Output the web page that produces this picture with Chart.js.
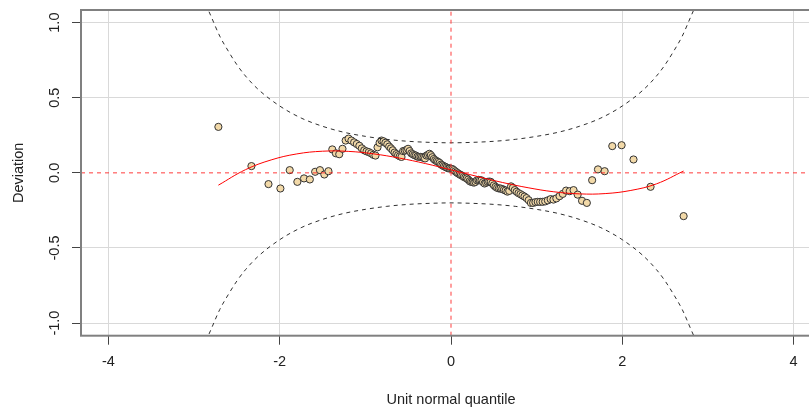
<!DOCTYPE html>
<html>
<head>
<meta charset="utf-8">
<title>Worm plot</title>
<script src="https://cdn.jsdelivr.net/npm/chart.js@4/dist/chart.umd.min.js"></script>
<style>
  html, body { margin: 0; padding: 0; background: #ffffff; overflow: hidden; }
  #wrap { position: relative; width: 840px; height: 409px; }
  canvas { display: block; }
</style>
</head>
<body>
<div id="wrap"><canvas id="wp" width="840" height="409"></canvas></div>
<script>
// Unit normal quantiles of the ordered residuals (n = 151)
const quantiles = [
  -2.716,-2.330,-2.131,-1.992,-1.883,-1.794,-1.716,-1.648,-1.586,-1.530,
  -1.479,-1.431,-1.386,-1.344,-1.305,-1.267,-1.230,-1.196,-1.163,-1.131,
  -1.100,-1.070,-1.041,-1.013,-0.986,-0.959,-0.933,-0.907,-0.882,-0.858,
  -0.834,-0.811,-0.788,-0.766,-0.744,-0.722,-0.701,-0.680,-0.659,-0.638,
  -0.618,-0.598,-0.578,-0.559,-0.539,-0.520,-0.501,-0.483,-0.464,-0.446,
  -0.428,-0.410,-0.392,-0.374,-0.356,-0.338,-0.321,-0.303,-0.286,-0.269,
  -0.252,-0.235,-0.218,-0.201,-0.184,-0.167,-0.150,-0.133,-0.116,-0.100,
  -0.083,-0.066,-0.050,-0.033,-0.017, 0.000, 0.017, 0.033, 0.050, 0.066,
   0.083, 0.100, 0.116, 0.133, 0.150, 0.167, 0.184, 0.201, 0.218, 0.235,
   0.252, 0.269, 0.286, 0.303, 0.321, 0.338, 0.356, 0.374, 0.392, 0.410,
   0.428, 0.446, 0.464, 0.483, 0.501, 0.520, 0.539, 0.559, 0.578, 0.598,
   0.618, 0.638, 0.659, 0.680, 0.701, 0.722, 0.744, 0.766, 0.788, 0.811,
   0.834, 0.858, 0.882, 0.907, 0.933, 0.959, 0.986, 1.013, 1.041, 1.070,
   1.100, 1.131, 1.163, 1.196, 1.230, 1.267, 1.305, 1.344, 1.386, 1.431,
   1.479, 1.530, 1.586, 1.648, 1.716, 1.794, 1.883, 1.992, 2.131, 2.330,
   2.716
];

// Deviation of each ordered residual from its normal quantile
const deviations = [
   0.306, 0.045,-0.075,-0.104, 0.018,-0.060,-0.037,-0.044, 0.007, 0.018,
  -0.011, 0.011, 0.156, 0.130, 0.124, 0.160, 0.215, 0.228, 0.215, 0.203,
   0.192, 0.180, 0.163, 0.150, 0.143, 0.138, 0.130, 0.120, 0.115, 0.170,
   0.200, 0.215, 0.210, 0.200, 0.190, 0.175, 0.163, 0.150, 0.135, 0.125,
   0.117, 0.110, 0.106, 0.145, 0.148, 0.152, 0.160, 0.145, 0.130, 0.124,
   0.118, 0.115, 0.108, 0.106, 0.106, 0.104, 0.100, 0.096, 0.115, 0.120,
   0.127, 0.118, 0.104, 0.092, 0.084, 0.078, 0.073, 0.066, 0.055, 0.050,
   0.044, 0.040, 0.035, 0.030, 0.030, 0.028, 0.025, 0.018, 0.010, 0.003,
  -0.004,-0.010,-0.015,-0.020,-0.027,-0.032,-0.037,-0.045,-0.055,-0.060,
  -0.062,-0.065,-0.060,-0.050,-0.047,-0.049,-0.050,-0.062,-0.071,-0.066,
  -0.060,-0.058,-0.060,-0.070,-0.083,-0.093,-0.100,-0.104,-0.104,-0.108,
  -0.113,-0.118,-0.125,-0.120,-0.090,-0.100,-0.115,-0.126,-0.135,-0.142,
  -0.150,-0.158,-0.168,-0.182,-0.200,-0.200,-0.195,-0.193,-0.193,-0.193,
  -0.190,-0.183,-0.175,-0.178,-0.170,-0.155,-0.140,-0.118,-0.122,-0.115,
  -0.145,-0.186,-0.200,-0.049, 0.023, 0.011, 0.178, 0.184, 0.089,-0.093,
  -0.288
];

// Fitted cubic through the worm
const fitQuantiles = [-2.716,-2.4,-2.1,-1.8,-1.5,-1.2,-0.9,-0.6,-0.3,0,0.3,0.6,0.9,1.2,1.5,1.8,2.1,2.4,2.716];
const fitDeviations = [-0.082,0.021,0.086,0.126,0.144,0.143,0.126,0.098,0.062,0.020,-0.023,-0.064,-0.099,-0.126,-0.140,-0.138,-0.117,-0.073,0.012];

// 95% pointwise confidence band
const bandQuantiles = [-2.9,-2.8,-2.7,-2.6,-2.5,-2.4,-2.25,-2.0,-1.75,-1.5,-1.25,-1.0,-0.75,-0.5,-0.25,0,
                        0.25,0.5,0.75,1.0,1.25,1.5,1.75,2.0,2.25,2.4,2.5,2.6,2.7,2.8,2.9];
const bandUpper = [1.17,1.04,0.91,0.81,0.72,0.645,0.555,0.445,0.365,0.31,0.27,0.243,0.223,0.21,0.203,0.20,
                   0.203,0.21,0.223,0.243,0.27,0.31,0.365,0.445,0.555,0.645,0.72,0.81,0.91,1.04,1.17];
const bandLower = [-1.17,-1.04,-0.91,-0.81,-0.72,-0.645,-0.555,-0.445,-0.365,-0.31,-0.27,-0.243,-0.223,-0.21,-0.203,-0.20,
                   -0.203,-0.21,-0.223,-0.243,-0.27,-0.31,-0.365,-0.445,-0.555,-0.645,-0.72,-0.81,-0.91,-1.04,-1.17];

// Axes
const xTickValues = [-4, -2, 0, 2, 4];
const xTickLabels = ['-4', '-2', '0', '2', '4'];
const yTickValues = [-1, -0.5, 0, 0.5, 1];
const yTickLabels = ['-1.0', '-0.5', '0.0', '0.5', '1.0'];
const xRange = [-4.32, 4.32];
const yRange = [-1.084, 1.084];
// Reference lines: zero deviation and zero quantile
const refX = 0, refY = 0;

const pairs = (xs, ys) => xs.map((v, i) => ({ x: v, y: ys[i] }));

const FONT = "'Liberation Sans', Arial, Helvetica, sans-serif";

// Grey box round the plotting region
const plotFrame = {
  id: 'plotFrame',
  afterDraw(chart) {
    const { ctx, chartArea: a } = chart;
    ctx.save();
    ctx.strokeStyle = '#808080';
    ctx.lineWidth = 2;
    ctx.setLineDash([]);
    ctx.strokeRect(a.left, a.top, a.right - a.left, a.bottom - a.top);
    ctx.restore();
  }
};

const refStyle = { showLine: true, borderColor: 'rgba(255,40,40,0.9)', borderWidth: 1,
                   borderDash: [4, 4], pointRadius: 0, fill: false };

new Chart(document.getElementById('wp'), {
  type: 'scatter',
  data: {
    datasets: [
      Object.assign({ data: [{ x: refX, y: yRange[0] }, { x: refX, y: yRange[1] }] }, refStyle),
      Object.assign({ data: [{ x: xRange[0], y: refY }, { x: xRange[1], y: refY }] }, refStyle),
      {
        data: pairs(fitQuantiles, fitDeviations),
        showLine: true, borderColor: '#ff0000', borderWidth: 1,
        pointRadius: 0, tension: 0.4, fill: false
      },
      {
        data: pairs(bandQuantiles, bandUpper),
        showLine: true, borderColor: '#303030', borderWidth: 1, borderDash: [4, 4],
        pointRadius: 0, cubicInterpolationMode: 'monotone', fill: false
      },
      {
        data: pairs(bandQuantiles, bandLower),
        showLine: true, borderColor: '#303030', borderWidth: 1, borderDash: [4, 4],
        pointRadius: 0, cubicInterpolationMode: 'monotone', fill: false
      },
      {
        data: pairs(quantiles, deviations),
        showLine: false, pointRadius: 3.6, pointBorderWidth: 1,
        pointBackgroundColor: '#f2d9a8', pointBorderColor: '#333333'
      }
    ]
  },
  options: {
    responsive: false,
    animation: false,
    devicePixelRatio: 1,
    layout: { padding: { top: 10, right: 19, bottom: 0, left: 0 } },
    plugins: { legend: { display: false }, tooltip: { enabled: false } },
    scales: {
      x: {
        type: 'linear', min: xRange[0], max: xRange[1],
        afterBuildTicks: s => { s.ticks = xTickValues.map(v => ({ value: v })); },
        afterFit: s => { s.height = 73.3; s.paddingLeft = 0; s.paddingRight = 0; },
        ticks: {
          callback: v => xTickLabels[xTickValues.indexOf(v)],
          color: '#222', font: { family: FONT, size: 14.5 }, padding: 9,
          maxRotation: 0, minRotation: 0
        },
        grid: {
          color: c => (c.tick && c.tick.value === refX) ? 'rgba(0,0,0,0)' : '#d9d9d9',
          lineWidth: 1, drawTicks: true, tickLength: 9, tickColor: '#444', tickWidth: 1
        },
        border: { display: false },
        title: { display: true, text: 'Unit normal quantile', color: '#222',
                 font: { family: FONT, size: 14.5 }, padding: { top: 0, bottom: 0 } }
      },
      y: {
        type: 'linear', min: yRange[0], max: yRange[1],
        afterBuildTicks: s => { s.ticks = yTickValues.map(v => ({ value: v })); },
        afterFit: s => { s.width = 81; s.paddingTop = 0; s.paddingBottom = 0; },
        ticks: {
          callback: v => yTickLabels[yTickValues.indexOf(v)],
          color: '#222', font: { family: FONT, size: 14.5 }, padding: 5,
          minRotation: 90, maxRotation: 90, crossAlign: 'center'
        },
        grid: {
          color: c => (c.tick && c.tick.value === refY) ? 'rgba(0,0,0,0)' : '#d9d9d9',
          lineWidth: 1, drawTicks: true, tickLength: 9, tickColor: '#444', tickWidth: 1
        },
        border: { display: false },
        title: { display: true, text: 'Deviation', color: '#222',
                 font: { family: FONT, size: 14.5 }, padding: { top: 10, bottom: 0 } }
      }
    }
  },
  plugins: [plotFrame]
});
</script>
</body>
</html>
